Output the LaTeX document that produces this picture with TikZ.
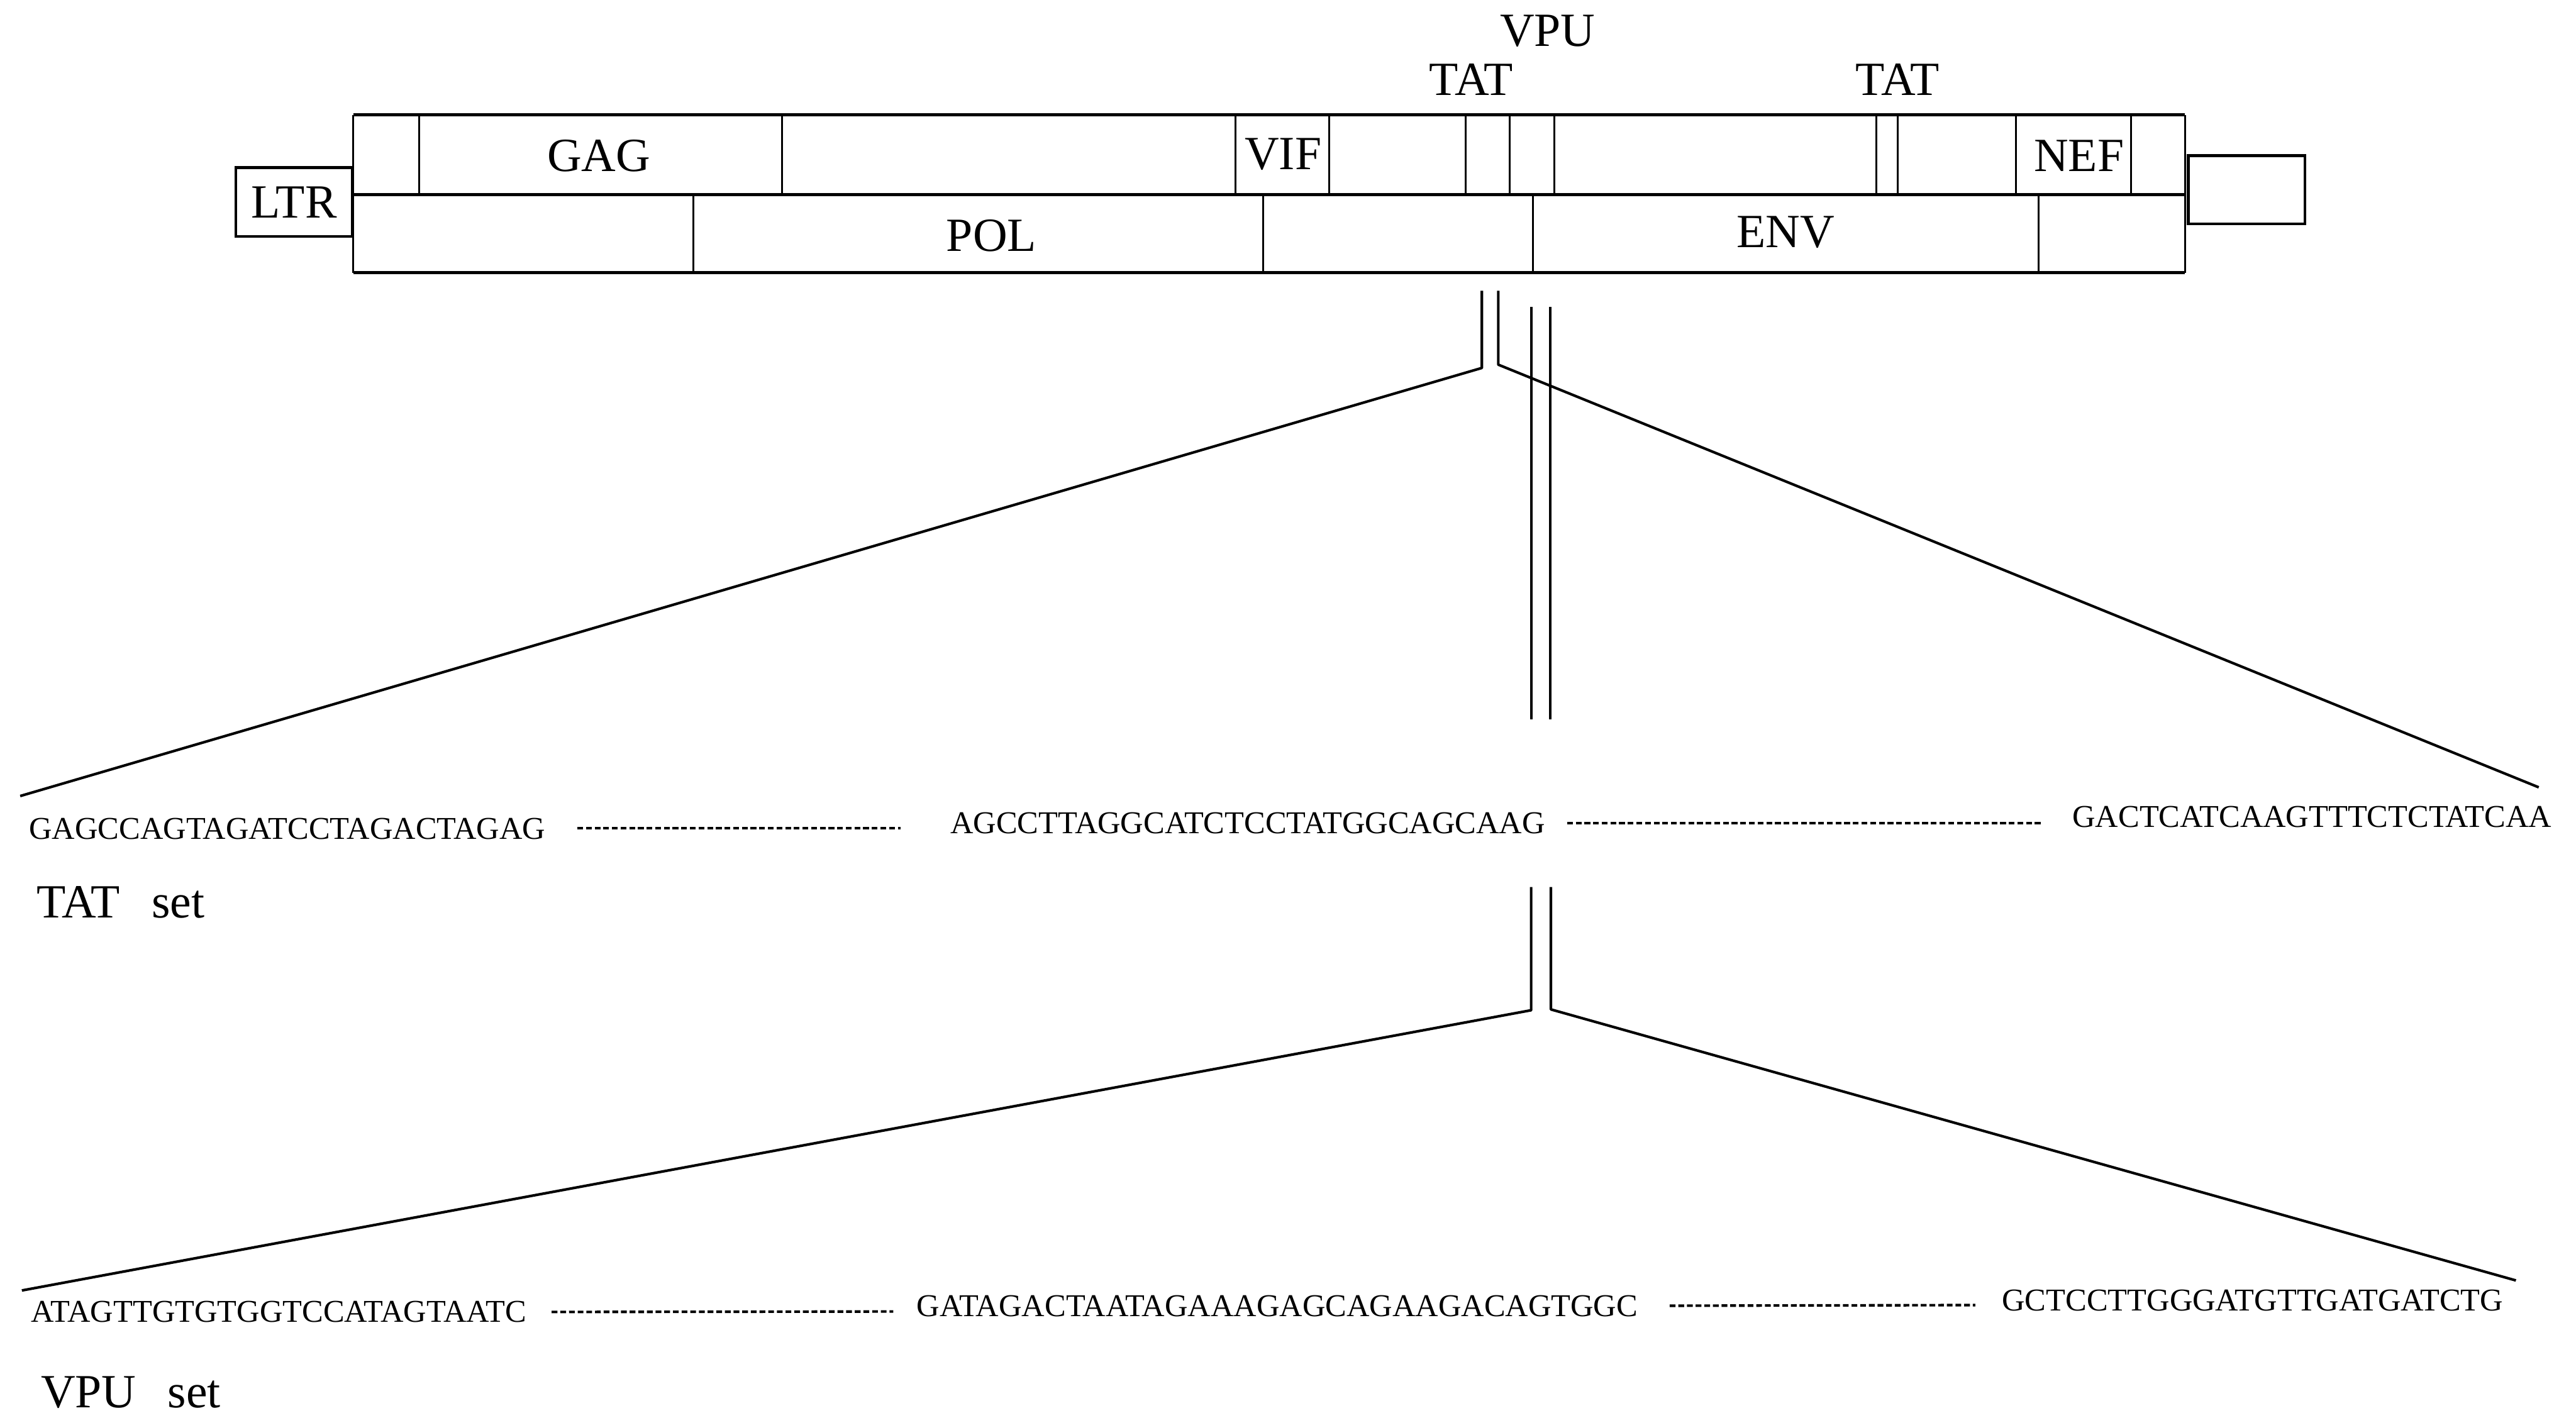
\documentclass[tikz,border=0pt]{standalone}
\usepackage{fontspec}
\setmainfont{Liberation Serif}
\usepackage{tikz}
\usetikzlibrary{calc}
\newcommand{\labfont}{\fontsize{16.5}{19}\selectfont}
\newcommand{\seqfont}{\fontsize{11}{13}\selectfont}
\tikzset{
  gbox/.style  = {draw=black, line width=1.1pt},
  gdiv/.style  = {draw=black, line width=0.7pt},
  gend/.style  = {rectangle, draw=black, line width=0.9pt, minimum width=14.2mm,
                  minimum height=8.4mm, inner sep=0pt, font=\labfont},
  glab/.style  = {font=\labfont, inner sep=0pt},
  seq/.style   = {font=\seqfont, inner sep=0pt},
  zln/.style   = {draw=black, line width=0.9pt, line join=round},
  gapln/.style = {draw=black, line width=0.9pt, dash pattern=on 2pt off 1pt},
}
\begin{document}
\begin{tikzpicture}[x=0.2mm,y=-0.2mm]
  \useasboundingbox (0,0) rectangle (1568,863);
  % genome map
  \draw[gbox] (215,70) -- (1330,70) (215,118.5) -- (1330,118.5) (215,166) -- (1330,166);
  \draw[gdiv] (215,70) -- (215,166) (1330,70) -- (1330,166);
  \foreach \x in {255,476,752,809,892,919,946,1142,1155,1227,1297}{
    \draw[gdiv] (\x,70) -- (\x,118.5);
  }
  \foreach \x in {422,769,933,1241}{
    \draw[gdiv] (\x,118.5) -- (\x,166);
  }
  \node[gend] (ltr) at (179,123) {LTR};
  \node[gend, minimum height=8.3mm] (rtr) at (1367.5,115.5) {};
  \node[glab] (gag) at (364.5,95) {GAG};
  \node[glab] (vif) at (781,94) {VIF};
  \node[glab] (nef) at (1265.5,95) {NEF};
  \node[glab] (pol) at (603.5,143.5) {POL};
  \node[glab] (env) at (1087,141.5) {ENV};
  \node[glab] (tata) at (895.5,48.5) {TAT};
  \node[glab] (tatb) at (1155,48.5) {TAT};
  \node[glab] (vpu) at (942,19) {VPU};

  % TAT set
  \node[seq, anchor=base west] (s1) at (17.4,511) {GAGCCAGTAGATCCTAGACTAGAG};
  \node[seq, anchor=base] (s2) at (759.5,507.5) {AGCCTTAGGCATCTCCTATGGCAGCAAG};
  \node[seq, anchor=base east] (s3) at (1553.5,503.5) {GACTCATCAAGTTTCTCTATCAA};
  \draw[gapln] ($(s1.base east)+(19,-7)$) -- ($(s2.base west)+(-30,-3.5)$);
  \draw[gapln] ($(s2.base east)+(13,-6.5)$) -- ($(s3.base west)+(-19,-2.5)$);
  \node[glab, anchor=base west] (tset) at (22,558.7) {TAT\hspace{0.66em}set};

  % VPU set
  \node[seq, anchor=base west] (v1) at (18.7,804.7) {ATAGTTGTGTGGTCCATAGTAATC};
  \node[seq, anchor=base] (v2) at (777.5,801.4) {GATAGACTAATAGAAAGAGCAGAAGACAGTGGC};
  \node[seq, anchor=base east] (v3) at (1524,798) {GCTCCTTGGGATGTTGATGATCTG};
  \draw[gapln] ($(v1.base east)+(15,-6)$) -- ($(v2.base west)+(-14,-3)$);
  \draw[gapln] ($(v2.base east)+(19,-6.5)$) -- ($(v3.base west)+(-16,-3.5)$);
  \node[glab, anchor=base west] (vset) at (24.6,857) {VPU\hspace{0.66em}set};

  % expansion of TAT region
  \coordinate (ta0) at (902,177);
  \coordinate (ta1) at (902,224);
  \coordinate (ta2) at (12.3,484.6);
  \coordinate (tb0) at (912,177);
  \coordinate (tb1) at (912,222);
  \coordinate (tb2) at (1545.3,479.3);
  \draw[zln] (ta0) -- (ta1) -- (ta2);
  \draw[zln] (tb0) -- (tb1) -- (tb2);

  % expansion of VPU region
  \coordinate (va0) at (932,187);
  \coordinate (va1) at (932,438);
  \coordinate (vb0) at (943.5,187);
  \coordinate (vb1) at (943.5,438);
  \draw[zln] (va0) -- (va1);
  \draw[zln] (vb0) -- (vb1);
  \coordinate (va2) at (932,540);
  \coordinate (va3) at (932,615);
  \coordinate (va4) at (13.3,785.6);
  \coordinate (vb2) at (944,540);
  \coordinate (vb3) at (944,614.5);
  \coordinate (vb4) at (1531.4,779.5);
  \draw[zln] (va2) -- (va3) -- (va4);
  \draw[zln] (vb2) -- (vb3) -- (vb4);
\end{tikzpicture}
\end{document}
